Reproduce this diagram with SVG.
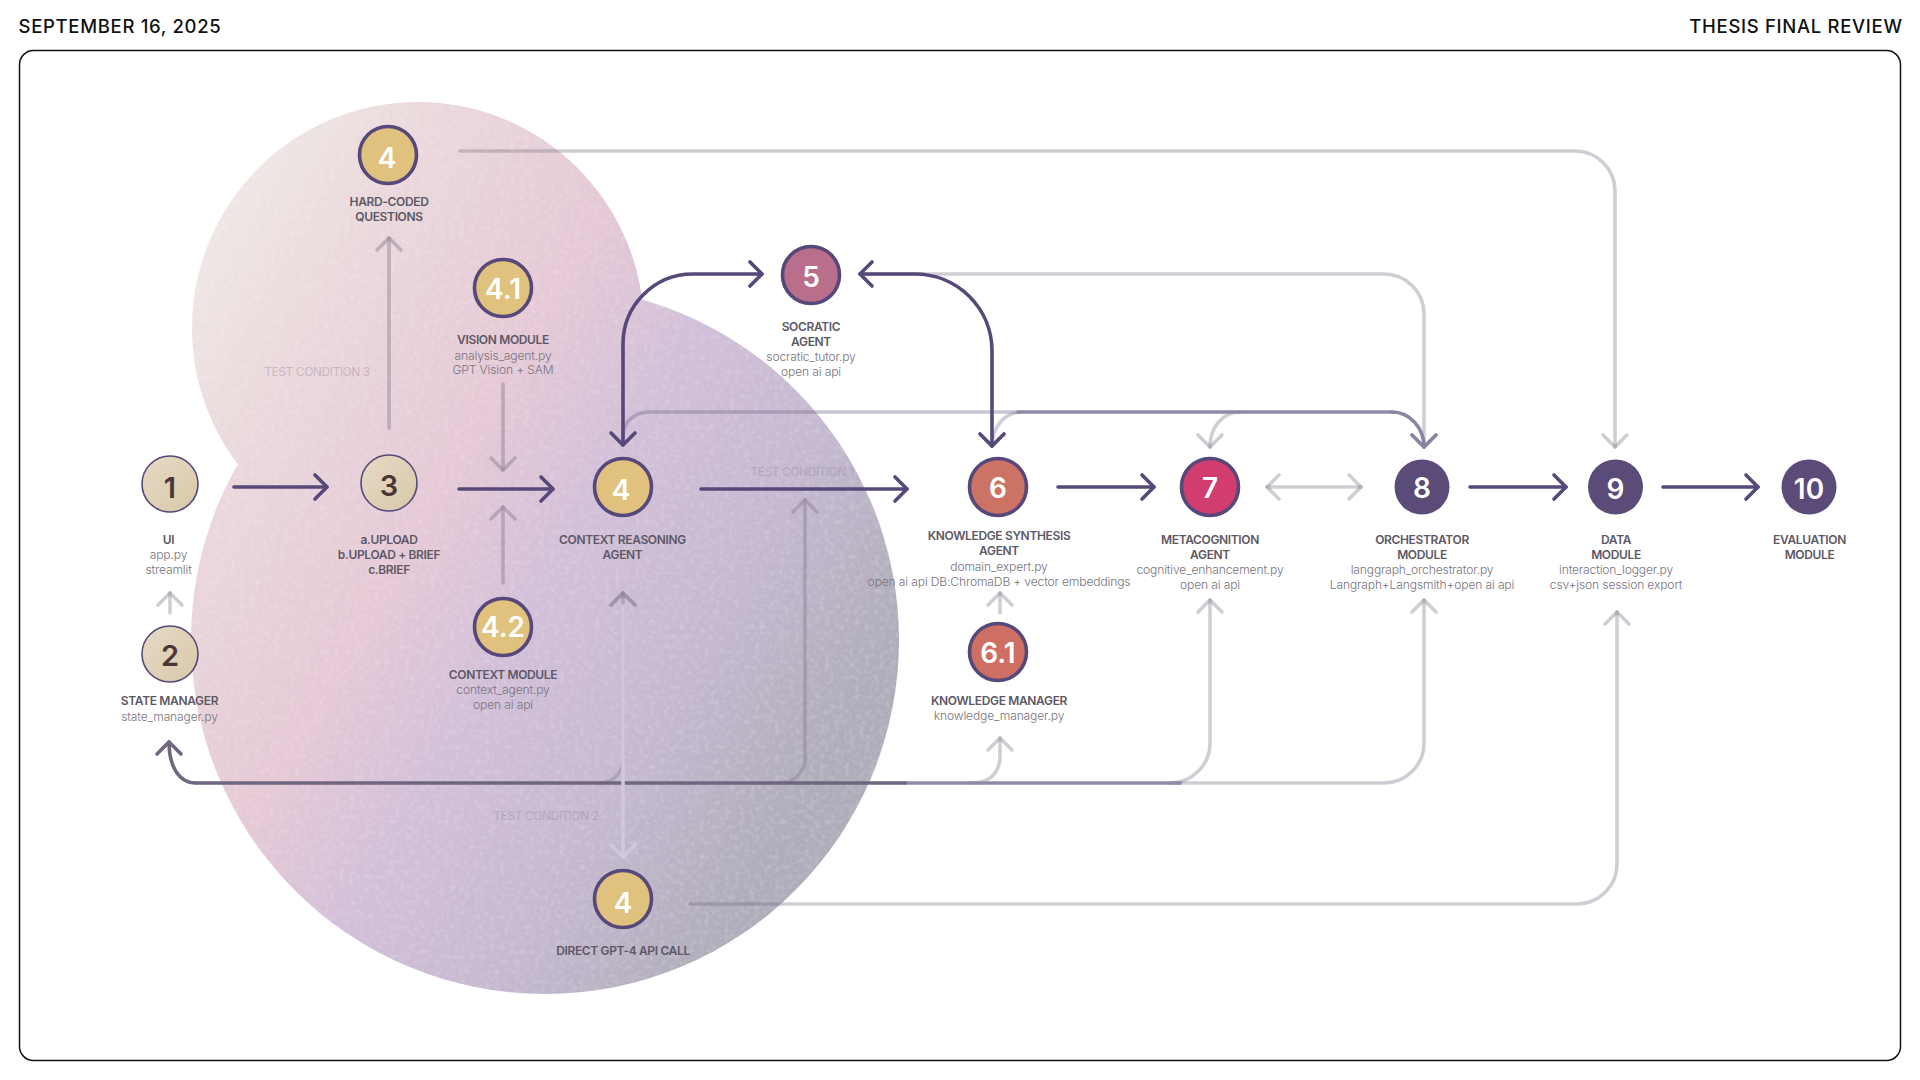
<svg xmlns="http://www.w3.org/2000/svg" width="1920" height="1080" viewBox="0 0 1920 1080">
<style>
text{font-family:"Inter","Liberation Sans",sans-serif;text-anchor:middle}
.h{font-size:18.5px;font-weight:500;fill:#111;letter-spacing:.68px}
.t{font-size:12px;font-weight:600;fill:#5d5866;letter-spacing:-.35px}
.s{font-size:12.1px;font-weight:300;fill:#77747e;letter-spacing:-.15px}
.c{font-size:12px;font-weight:400;fill:#8c8296;fill-opacity:.4;letter-spacing:-.45px}
.n{font-size:28px;font-weight:600;fill:#fff}
.nd{fill:#4a3636;font-size:29px}
.r{stroke:#56487a;stroke-width:3.6}
.r0{stroke:#56487a;stroke-width:1.6}
.l{fill:none;stroke-width:3.6;stroke-linecap:round;stroke-linejoin:round}
.dk{stroke:#56497a;marker-end:url(#ad)}
.dk2{stroke:#56497a;marker-end:url(#ad);marker-start:url(#ads)}
.lt{stroke:#6c6878;stroke-opacity:.32;marker-end:url(#al)}
.lt2{stroke:#6c6878;stroke-opacity:.32;marker-end:url(#al);marker-start:url(#als)}
.mid{stroke:#6f6a88;stroke-opacity:.38}
.mida{stroke:#8a84a0;marker-end:url(#am)}
.tr{stroke:#8f8599;stroke-opacity:.5;marker-end:url(#at)}
.bl{stroke:#6f6680;marker-end:url(#ab)}
.ln{stroke:#cfcadb;marker-end:url(#an)}
</style>
<defs>
<linearGradient id="g" gradientUnits="userSpaceOnUse" x1="190" y1="210" x2="905" y2="620">
<stop offset="0" stop-color="#f0eae6"/><stop offset=".2" stop-color="#ead8dc"/><stop offset=".44" stop-color="#e5c9d6"/><stop offset=".6" stop-color="#d2c0d9"/><stop offset=".8" stop-color="#c5b9d0"/><stop offset="1" stop-color="#b0adbb"/>
</linearGradient>
<filter id="grain" x="0" y="0" width="100%" height="100%">
<feTurbulence type="fractalNoise" baseFrequency=".2" numOctaves="2" seed="4" result="n"/>
<feColorMatrix in="n" type="matrix" values="0 0 0 0 1  0 0 0 0 1  0 0 0 0 1  0 0 0 3 -1.4" result="w"/>
<feComposite in="w" in2="SourceAlpha" operator="in" result="wc"/>
<feComponentTransfer in="wc" result="wf"><feFuncA type="linear" slope=".13"/></feComponentTransfer>
<feMerge><feMergeNode in="SourceGraphic"/><feMergeNode in="wf"/></feMerge>
</filter>
<linearGradient id="fa" x1="0" y1="0" x2="1" y2="1"><stop offset="0" stop-color="#e6dac6"/><stop offset="1" stop-color="#d9c8a8"/></linearGradient>
<marker id="ad" markerUnits="userSpaceOnUse" markerWidth="32" markerHeight="32" viewBox="-16 -16 32 32" orient="auto" overflow="visible"><path d="M-12-12L0 0L-12 12" fill="none" stroke="#56497a" stroke-width="3.6" stroke-linecap="round" stroke-linejoin="round"/></marker>
<marker id="ads" markerUnits="userSpaceOnUse" markerWidth="32" markerHeight="32" viewBox="-16 -16 32 32" orient="auto-start-reverse" overflow="visible"><path d="M-12-12L0 0L-12 12" fill="none" stroke="#56497a" stroke-width="3.6" stroke-linecap="round" stroke-linejoin="round"/></marker>
<marker id="al" markerUnits="userSpaceOnUse" markerWidth="32" markerHeight="32" viewBox="-16 -16 32 32" orient="auto" overflow="visible"><path d="M-12-12L0 0L-12 12" fill="none" stroke="#6c6878" stroke-opacity=".32" stroke-width="3.6" stroke-linecap="round" stroke-linejoin="round"/></marker>
<marker id="als" markerUnits="userSpaceOnUse" markerWidth="32" markerHeight="32" viewBox="-16 -16 32 32" orient="auto-start-reverse" overflow="visible"><path d="M-12-12L0 0L-12 12" fill="none" stroke="#6c6878" stroke-opacity=".32" stroke-width="3.6" stroke-linecap="round" stroke-linejoin="round"/></marker>
<marker id="am" markerUnits="userSpaceOnUse" markerWidth="32" markerHeight="32" viewBox="-16 -16 32 32" orient="auto" overflow="visible"><path d="M-12-12L0 0L-12 12" fill="none" stroke="#8a84a0" stroke-width="3.6" stroke-linecap="round" stroke-linejoin="round"/></marker>
<marker id="at" markerUnits="userSpaceOnUse" markerWidth="32" markerHeight="32" viewBox="-16 -16 32 32" orient="auto" overflow="visible"><path d="M-12-12L0 0L-12 12" fill="none" stroke="#8f8599" stroke-opacity=".5" stroke-width="3.6" stroke-linecap="round" stroke-linejoin="round"/></marker>
<marker id="ab" markerUnits="userSpaceOnUse" markerWidth="32" markerHeight="32" viewBox="-16 -16 32 32" orient="auto" overflow="visible"><path d="M-12-12L0 0L-12 12" fill="none" stroke="#6f6680" stroke-width="3.6" stroke-linecap="round" stroke-linejoin="round"/></marker>
<marker id="an" markerUnits="userSpaceOnUse" markerWidth="32" markerHeight="32" viewBox="-16 -16 32 32" orient="auto" overflow="visible"><path d="M-12-12L0 0L-12 12" fill="none" stroke="#cfcadb" stroke-width="3.6" stroke-linecap="round" stroke-linejoin="round"/></marker>
</defs>
<rect width="1920" height="1080" fill="#fff"/>
<text class="h" x="120" y="33">SEPTEMBER 16, 2025</text>
<text class="h" x="1796" y="33">THESIS FINAL REVIEW</text>
<rect x="19.5" y="50.5" width="1881" height="1010" rx="14" fill="none" stroke="#111" stroke-width="1.5"/>
<g id="blob" filter="url(#grain)" fill="url(#g)">
<circle cx="418" cy="328" r="226"/>
<circle cx="545" cy="640" r="354"/>
</g>
<text class="c" x="317" y="376">TEST CONDITION 3</text>
<text class="c" x="802" y="476">TEST CONDITION 1</text>
<text class="c" x="546" y="820">TEST CONDITION 2</text>
<g id="connectors">
<path class="l lt" d="M460 151H1575A40 40 0 0 1 1615 191V447"/>
<path class="l lt" d="M690 904H1577A40 40 0 0 0 1617 864V612"/>
<path class="l lt" d="M170 613V593"/>
<path class="l lt" d="M1000 613V593"/>
<path class="l lt2" d="M1267 487H1361"/>
<path class="l lt" d="M860 274H1384A40 40 0 0 1 1424 314V447"/>
<path class="l lt" d="M1022 412C1004 412 992 428 992 446"/>
<path class="l lt" d="M1240 412C1222 412 1210 428 1210 447"/>
<path class="l mid" d="M623 437C623 422 634 412 650 412H1018"/>
<path class="l" stroke="#8f8ba6" d="M1018 412H1392"/>
<path class="l mida" d="M1392 412C1410 412 1424 428 1424 447"/>
<path class="l tr" d="M389 428V238"/>
<path class="l tr" d="M503 384V470"/>
<path class="l tr" d="M503 583V507"/>
<path class="l lt" d="M973 783C990 783 1000 772 1000 756V738"/>
<path class="l lt" d="M1180 783H1170A40 40 0 0 0 1210 743V600"/>
<path class="l lt" d="M1180 783H1384A40 40 0 0 0 1424 743V600"/>
<path class="l" stroke="#8f8ba6" d="M905 783H1180"/>
<path class="l tr" d="M780 783A25 25 0 0 0 805 758V500"/>
<path class="l tr" d="M600 783A23 23 0 0 0 623 760V593"/>
<path class="l" stroke="#6f6680" d="M196 783H905"/>
<path class="l bl" d="M196 783C178 783 169 765 169 742"/>
<path class="l ln" d="M623 600V857"/>
<path class="l tr" d="M623 603V593"/>
<path class="l dk" d="M234 487H327"/>
<path class="l dk" d="M459 489H553"/>
<path class="l dk" d="M701 489H907"/>
<path class="l dk" d="M1058 487H1154"/>
<path class="l dk" d="M1470 487H1566"/>
<path class="l dk" d="M1663 487H1758"/>
<path class="l dk2" d="M623 445V344A70 70 0 0 1 693 274H762"/>
<path class="l dk2" d="M860 274H915A77 77 0 0 1 992 351V446"/>
</g>
<g id="n1"><circle class="r0" cx="170" cy="484" r="28" fill="url(#fa)"/><text class="n nd" x="170" y="498">1</text><text class="t" x="168.500" y="543.500">UI</text><text class="s" x="168.500" y="558.500">app.py</text><text class="s" x="168.500" y="573.500">streamlit</text></g>
<g id="n2"><circle class="r0" cx="170" cy="654" r="28" fill="url(#fa)"/><text class="n nd" x="170" y="666">2</text><text class="t" x="169.500" y="705">STATE MANAGER</text><text class="s" x="169.500" y="720.500">state_manager.py</text></g>
<g id="n3"><circle class="r0" cx="389" cy="483" r="28" fill="url(#fa)"/><text class="n nd" x="389" y="496">3</text><text class="t" x="389" y="543.500">a.UPLOAD</text><text class="t" x="389" y="558.500">b.UPLOAD + BRIEF</text><text class="t" x="389" y="573.500">c.BRIEF</text></g>
<g id="n4a"><circle class="r" cx="623" cy="487" r="28.500" fill="#e0c27e"/><text class="n" x="621" y="499.500">4</text><text class="t" x="622.500" y="543.500">CONTEXT REASONING</text><text class="t" x="622.500" y="558.500">AGENT</text></g>
<g id="n4b"><circle class="r" cx="388" cy="155" r="28.500" fill="#e0c27e"/><text class="n" x="387" y="168">4</text><text class="t" x="389" y="205.500">HARD-CODED</text><text class="t" x="389" y="220.500">QUESTIONS</text></g>
<g id="n4c"><circle class="r" cx="623" cy="899" r="28.500" fill="#e0c27e"/><text class="n" x="623" y="912.500">4</text><text class="t" x="623" y="955">DIRECT GPT-4 API CALL</text></g>
<g id="n41"><circle class="r" cx="503" cy="288" r="28.500" fill="#e0c27e"/><text class="n" x="503" y="298.500">4.1</text><text class="t" x="503" y="344">VISION MODULE</text><text class="s" x="503" y="359.500">analysis_agent.py</text><text class="s" x="503" y="373.500">GPT Vision + SAM</text></g>
<g id="n42"><circle class="r" cx="503" cy="627" r="28.500" fill="#e0c27e"/><text class="n" x="503" y="637">4.2</text><text class="t" x="503" y="679">CONTEXT MODULE</text><text class="s" x="503" y="693.500">context_agent.py</text><text class="s" x="503" y="708.500">open ai api</text></g>
<g id="n5"><circle class="r" cx="811" cy="275" r="28.500" fill="#b96e8c"/><text class="n" x="811" y="286.500">5</text><text class="t" x="811" y="331">SOCRATIC</text><text class="t" x="811" y="346">AGENT</text><text class="s" x="811" y="360.500">socratic_tutor.py</text><text class="s" x="811" y="375.500">open ai api</text></g>
<g id="n6"><circle class="r" cx="998" cy="487" r="28.500" fill="#cc7366"/><text class="n" x="998" y="498">6</text><text class="t" x="999" y="540">KNOWLEDGE SYNTHESIS</text><text class="t" x="999" y="555">AGENT</text><text class="s" x="999" y="570.500">domain_expert.py</text><text class="s" x="999" y="585.500">open ai api DB:ChromaDB + vector embeddings</text></g>
<g id="n61"><circle class="r" cx="998" cy="652" r="28.500" fill="#cf6f63"/><text class="n" x="998" y="663">6.1</text><text class="t" x="999" y="705">KNOWLEDGE MANAGER</text><text class="s" x="999" y="719.500">knowledge_manager.py</text></g>
<g id="n7"><circle class="r" cx="1210" cy="487" r="28.500" fill="#d13d6e"/><text class="n" x="1210" y="498">7</text><text class="t" x="1210" y="543.500">METACOGNITION</text><text class="t" x="1210" y="558.500">AGENT</text><text class="s" x="1210" y="573.500">cognitive_enhancement.py</text><text class="s" x="1210" y="588.500">open ai api</text></g>
<g id="n8"><circle cx="1422" cy="487" r="27.500" fill="#5b4b78"/><text class="n" x="1422" y="498">8</text><text class="t" x="1422" y="543.500">ORCHESTRATOR</text><text class="t" x="1422" y="558.500">MODULE</text><text class="s" x="1422" y="573.500">langgraph_orchestrator.py</text><text class="s" x="1422" y="588.500">Langraph+Langsmith+open ai api</text></g>
<g id="n9"><circle cx="1615.500" cy="487" r="27.500" fill="#5b4b78"/><text class="n" x="1615.500" y="499">9</text><text class="t" x="1616" y="543.500">DATA</text><text class="t" x="1616" y="558.500">MODULE</text><text class="s" x="1616" y="573.500">interaction_logger.py</text><text class="s" x="1616" y="588.500">csv+json session export</text></g>
<g id="n10"><circle cx="1809" cy="487" r="27.500" fill="#5b4b78"/><text class="n" x="1809" y="499">10</text><text class="t" x="1809.500" y="543.500">EVALUATION</text><text class="t" x="1809.500" y="558.500">MODULE</text></g>
</svg>
